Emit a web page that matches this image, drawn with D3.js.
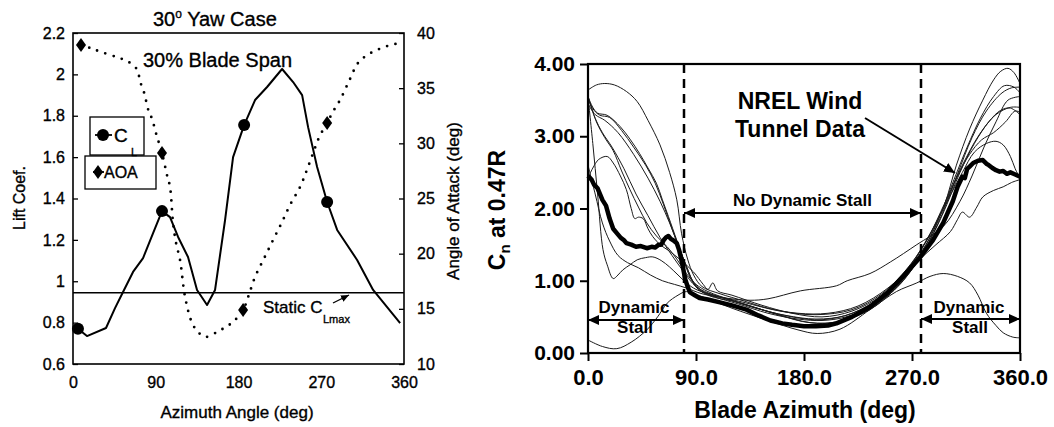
<!DOCTYPE html>
<html>
<head>
<meta charset="utf-8">
<script src="https://cdn.jsdelivr.net/npm/d3@7"></script>
<style>
body { margin: 0; background: #fff; }
svg { display: block; }
text { font-family: "Liberation Sans", Arial, Helvetica, sans-serif; fill: #000; }
.scan text, text.scan { stroke: #000; stroke-width: 0.35; }
</style>
</head>
<body>
<svg id="chart" width="1054" height="427"></svg>
<script>
// ---- left panel: 30 deg yaw, 30% span ----
const azTicksL = [0, 90, 180, 270, 360]
const liftTicks = [0.6, 0.8, 1, 1.2, 1.4, 1.6, 1.8, 2, 2.2]
const aoaTicks = [10, 15, 20, 25, 30, 35, 40]
// [azimuth deg, lift coef]
const liftCoef = [
  [5.4, 0.77], [15.2, 0.735], [35.9, 0.774], [45.7, 0.87], [55.5, 0.958], [65.3, 1.045],
  [76.2, 1.112], [87.1, 1.233], [96.8, 1.339], [105.5, 1.31], [114.3, 1.214], [125.1, 1.117],
  [134.9, 0.958], [145.8, 0.885], [154.5, 0.958], [165.4, 1.296], [174.1, 1.6], [186.1, 1.755],
  [198, 1.876], [211.1, 1.939], [227.4, 2.026], [239.4, 1.963], [249.2, 1.9], [255.7, 1.745],
  [265.5, 1.552], [276.4, 1.383], [287.3, 1.248], [309, 1.103], [326.4, 0.958], [355.8, 0.798]
]
// [azimuth deg, angle of attack deg]
const aoa = [
  [8.7, 38.92], [18.5, 38.65], [30, 38.3], [48, 37.8], [60, 37.4], [69.6, 36.7], [73, 35.6],
  [77.3, 34.6], [82, 33.0], [86, 32.2], [91, 30.7], [96.8, 29.13], [102, 27.2], [105.5, 26.05],
  [108.8, 22.8], [112, 21], [116.4, 19.43], [121.9, 16.07], [129.5, 13.72], [136, 12.9],
  [143.6, 12.45], [156.7, 12.9], [165, 13.3], [174.1, 13.81], [185, 14.9], [191, 16.2],
  [198, 17.89], [208, 19.6], [217.6, 21.24], [227, 22.8], [236.1, 24.42], [247, 26.05],
  [254, 27.5], [261.2, 29.13], [268, 30.6], [276.4, 31.85], [283, 32.9], [290.5, 33.93],
  [300, 35.6], [310.1, 37.29], [320, 38.0], [330.8, 38.47], [343, 38.85], [355.8, 39.1]
]
const liftMarkers = [[5.4, 0.77], [96.8, 1.339], [186.1, 1.755], [276.4, 1.383]]
const aoaMarkers = [[8.7, 38.92], [96.8, 29.13], [185, 14.9], [276.4, 31.85]]
const staticClMax = 0.945

// ---- right panel: Cn at 0.47R ----
const azTicksR = [0, 90, 180, 270, 360]
const cnTicks = [0, 1, 2, 3, 4]
const stallBounds = [80, 277.5]
const nrelData = [
  [0, 2.45], [3, 2.4], [5, 2.33], [8, 2.28], [12, 2.12], [15, 2.04], [18, 1.86], [21, 1.72],
  [24, 1.66], [27, 1.6], [30, 1.56], [32, 1.52], [36, 1.5], [40, 1.47], [44, 1.48], [49, 1.45],
  [53, 1.47], [56, 1.46], [59, 1.5], [61, 1.5], [63, 1.56], [65, 1.6], [67, 1.62], [69, 1.58],
  [71, 1.56], [74, 1.52], [76, 1.42], [77, 1.35], [79, 1.2], [81, 1.02], [83, 0.92], [85, 0.84],
  [89, 0.8], [93, 0.76], [100, 0.74], [110, 0.7], [120, 0.66], [132, 0.6], [142, 0.52],
  [152, 0.45], [162, 0.41], [170, 0.39], [180, 0.37], [190, 0.37], [200, 0.38], [207, 0.41],
  [220, 0.5], [235, 0.64], [250, 0.84], [262, 1.05], [277, 1.33], [287, 1.55], [296, 1.8],
  [304, 2.1], [308, 2.3], [312, 2.44], [314, 2.42], [316, 2.55], [318, 2.58], [321, 2.63],
  [325, 2.66], [329, 2.67], [332, 2.62], [334, 2.6], [337, 2.56], [340, 2.53], [343, 2.51],
  [346, 2.52], [349, 2.48], [352, 2.5], [356, 2.47], [360, 2.44]
]
const run1 = [[0,3.64],[7,3.71],[14,3.73],[22,3.71],[32,3.62],[41,3.48],[50,3.22],[60,2.88],[68,2.5],[74,2.12],[78,1.65],[83,1.3],[88,1.08],[95,0.92],[110,0.82],[130,0.72],[150,0.62],[175,0.55],[200,0.55],[225,0.65],[250,0.9],[270,1.22],[285,1.6],[297,2.05],[307,2.6],[318,3.1],[329,3.5],[338,3.78],[344,3.9],[350,3.94],[355,3.88],[360,3.73]]
const run2 = [[0,3.55],[4,3.4],[8,3.32],[16,3.29],[27,3.13],[35,2.96],[43,2.76],[50,2.56],[57,2.35],[62,2.12],[67,1.89],[74,1.56],[79,1.33],[85,1.05],[92,0.88],[105,0.78],[125,0.68],[150,0.55],[175,0.47],[195,0.45],[215,0.5],[240,0.68],[260,0.95],[280,1.42],[295,1.92],[308,2.48],[320,2.98],[332,3.35],[345,3.6],[353,3.67],[360,3.68]]
const run3 = [[0,3.52],[5,3.36],[10,3.29],[18,3.26],[28,3.08],[38,2.85],[48,2.6],[56,2.35],[63,2.05],[70,1.72],[76,1.45],[82,1.2],[88,0.98],[97,0.84],[115,0.75],[140,0.62],[165,0.52],[190,0.47],[215,0.52],[240,0.72],[262,1.05],[282,1.55],[298,2.1],[312,2.6],[326,3.02],[340,3.3],[352,3.4],[360,3.4]]
const run4 = [[0,3.55],[4,2.9],[8,2.2],[12.5,1.43],[16,1.22],[21,1.03],[25,1.08],[29,1.15],[35,1.22],[41,1.29],[48,1.32],[54,1.33],[61,1.28],[68,1.19],[75,1.08],[82,0.97],[90,0.88],[105,0.8],[130,0.7],[160,0.58],[190,0.53],[220,0.6],[245,0.82],[265,1.15],[282,1.55],[296,2.0],[308,2.45],[318,2.75],[328,2.95],[338,3.05],[348,3.2],[356,3.35],[360,3.33]]
const run5 = [[0,2.42],[4,2.56],[9,2.68],[16,2.72],[21,2.63],[27,2.45],[32,2.26],[36,2.0],[39,1.86],[42,1.88],[46,1.86],[50,1.72],[54,1.61],[60,1.5],[67,1.42],[77,1.29],[88,1.12],[96,0.95],[100,0.88],[104,0.97],[108,0.86],[120,0.8],[145,0.66],[170,0.55],[195,0.5],[220,0.58],[245,0.8],[268,1.2],[285,1.65],[300,2.12],[312,2.5],[322,2.78],[332,2.9],[340,2.93],[346,2.88],[352,2.72],[356,2.55],[360,2.42]]
const run6 = [[0,3.55],[7,3.2],[14,2.98],[21,2.8],[28,2.52],[35,2.26],[42,2.02],[49,1.8],[57,1.62],[66,1.47],[74,1.3],[82,1.1],[90,0.95],[100,0.85],[120,0.73],[145,0.6],[170,0.5],[195,0.46],[220,0.55],[245,0.78],[265,1.1],[280,1.35],[290,1.5],[302,1.68],[308,1.85],[312,1.95],[318,1.88],[324,2.02],[329,2.16],[338,2.25],[346,2.3],[353,2.36],[360,2.4]]
const run7 = [[0,2.6],[6,2.2],[12,1.8],[18,1.55],[25,1.35],[33,1.25],[42,1.18],[52,1.08],[62,1.0],[72,0.95],[82,0.9],[95,0.82],[115,0.76],[135,0.73],[150,0.75],[177,0.86],[207,0.93],[216,1.0],[235,1.1],[252,1.26],[274,1.5],[296,1.75],[310,2.1],[320,2.45],[330,2.85],[340,3.2],[350,3.5],[360,3.55]]
const run8 = [[0,0.18],[12,0.09],[24,0.06],[36,0.15],[49,0.32],[58,0.5],[66,0.69],[75,0.8],[82,0.85],[95,0.78],[120,0.62],[150,0.45],[175,0.32],[191,0.27],[210,0.33],[235,0.6],[257,0.85],[274,0.97],[285,1.06],[296,1.1],[308,1.06],[318,0.97],[325,0.8],[332,0.55],[340,0.38],[346,0.28],[354,0.22],[360,0.21]]
const run9 = [[0,3.45],[6,3.3],[14,3.22],[25,3.05],[38,2.75],[50,2.42],[60,2.1],[68,1.8],[75,1.5],[82,1.2],[90,0.92],[100,0.8],[125,0.7],[155,0.55],[185,0.42],[205,0.42],[230,0.56],[255,0.88],[275,1.3],[292,1.85],[305,2.4],[316,2.85],[327,3.25],[338,3.55],[347,3.7],[355,3.68],[360,3.6]]
const run10 = [[0,3.55],[6,3.25],[12,3.05],[20,2.85],[30,2.55],[40,2.2],[50,1.9],[60,1.6],[70,1.35],[80,1.12],[90,0.92],[105,0.8],[130,0.68],[160,0.52],[185,0.42],[210,0.44],[235,0.6],[258,0.92],[278,1.35],[295,1.9],[310,2.5],[322,2.9],[334,3.2],[344,3.36],[352,3.39],[360,3.3]]
const modelRuns = [run1, run2, run3, run4, run5, run6, run7, run8, run9, run10]

const svg = d3.select('#chart')
const defs = svg.append('defs')
function arrowHead(id, len, half) {
  defs.append('marker')
    .attr('id', id)
    .attr('markerUnits', 'userSpaceOnUse')
    .attr('viewBox', `0 ${-half} ${len} ${half * 2}`)
    .attr('refX', len).attr('refY', 0)
    .attr('markerWidth', len).attr('markerHeight', half * 2)
    .attr('orient', 'auto-start-reverse')
    .append('path')
    .attr('d', `M0,${-half}L${len},0L0,${half}Z`)
    .attr('fill', '#000')
}
arrowHead('headBig', 11, 5)
arrowHead('headSmall', 8, 3.5)

// ================= left chart =================
const L = { left: 73, right: 404, top: 33, bottom: 364 }
const xL = d3.scaleLinear().domain([0, 360]).range([L.left, L.right])
const yL = d3.scaleLinear().domain([0.6, 2.2]).range([L.bottom, L.top])
const y2L = d3.scaleLinear().domain([10, 40]).range([L.bottom, L.top])
const left = svg.append('g').attr('class', 'scan')

function styleAxis(g, size, weight) {
  g.select('.domain').remove()
  g.selectAll('line').attr('stroke', '#000').attr('stroke-width', 1.3)
  g.selectAll('text').attr('font-size', size).attr('font-weight', weight)
    .attr('font-family', '"Liberation Sans", Arial, sans-serif')
}

left.append('g')
  .attr('transform', `translate(${L.left},0)`)
  .call(d3.axisLeft(yL).tickValues(liftTicks).tickSize(-5).tickPadding(8).tickFormat(d3.format('~g')))
  .call(g => styleAxis(g, 16, 'normal'))
left.append('g')
  .attr('transform', `translate(${L.right},0)`)
  .call(d3.axisRight(y2L).tickValues(aoaTicks).tickSize(-5).tickPadding(13))
  .call(g => styleAxis(g, 16, 'normal'))
left.append('g')
  .attr('transform', `translate(0,${L.bottom})`)
  .call(d3.axisBottom(xL).tickValues(azTicksL).tickSize(0).tickPadding(13))
  .call(g => styleAxis(g, 16, 'normal'))

left.append('rect')
  .attr('x', L.left).attr('y', L.top)
  .attr('width', L.right - L.left).attr('height', L.bottom - L.top)
  .attr('fill', 'none').attr('stroke', '#000').attr('stroke-width', 1.6)

// static CLmax line
left.append('line')
  .attr('x1', L.left).attr('x2', L.right)
  .attr('y1', yL(staticClMax)).attr('y2', yL(staticClMax))
  .attr('stroke', '#000').attr('stroke-width', 1.5)

// AOA dotted
left.append('path')
  .attr('d', d3.line().x(d => xL(d[0])).y(d => y2L(d[1])).curve(d3.curveCatmullRom)(aoa))
  .attr('fill', 'none').attr('stroke', '#000').attr('stroke-width', 2.8)
  .attr('stroke-linecap', 'round').attr('stroke-dasharray', '0,8.6')

// lift coefficient
left.append('path')
  .attr('d', d3.line().x(d => xL(d[0])).y(d => yL(d[1]))(liftCoef))
  .attr('fill', 'none').attr('stroke', '#000').attr('stroke-width', 2)
  .attr('stroke-linejoin', 'round')

const diamond = 'M0,-7L5,0L0,7L-5,0Z'
left.selectAll('circle.cl').data(liftMarkers).join('circle')
  .attr('class', 'cl')
  .attr('cx', d => xL(d[0])).attr('cy', d => yL(d[1])).attr('r', 6)
  .attr('fill', '#000')
left.selectAll('path.aoa').data(aoaMarkers).join('path')
  .attr('class', 'aoa')
  .attr('d', diamond)
  .attr('transform', d => `translate(${xL(d[0])},${y2L(d[1])})`)
  .attr('fill', '#000')

// titles
const t1 = left.append('text').attr('x', 153).attr('y', 26).attr('font-size', 20)
t1.append('tspan').text('30')
t1.append('tspan').attr('font-size', 12).attr('dy', -8).text('o')
t1.append('tspan').attr('dy', 8).text(' Yaw Case')
left.append('text').attr('x', 143).attr('y', 67).attr('font-size', 20).text('30% Blade Span')

left.append('text')
  .attr('transform', 'translate(25,198) rotate(-90)')
  .attr('text-anchor', 'middle').attr('font-size', 16).text('Lift Coef.')
left.append('text')
  .attr('transform', 'translate(459,201) rotate(-90)')
  .attr('text-anchor', 'middle').attr('font-size', 17).text('Angle of Attack (deg)')
left.append('text')
  .attr('x', 237).attr('y', 418)
  .attr('text-anchor', 'middle').attr('font-size', 17).text('Azimuth Angle (deg)')

// static CLmax annotation
left.append('text').attr('x', 263).attr('y', 313).attr('font-size', 17).text('Static C')
left.append('text').attr('x', 323).attr('y', 323).attr('font-size', 11).text('Lmax')
left.append('line')
  .attr('x1', 333).attr('y1', 303).attr('x2', 349).attr('y2', 295)
  .attr('stroke', '#000').attr('stroke-width', 1.3)
  .attr('marker-end', 'url(#headSmall)')

// legend boxes
left.append('rect').attr('x', 90).attr('y', 117).attr('width', 54).attr('height', 38)
  .attr('fill', '#fff').attr('stroke', '#000').attr('stroke-width', 1.3)
left.append('line').attr('x1', 95).attr('x2', 112).attr('y1', 135).attr('y2', 135)
  .attr('stroke', '#000').attr('stroke-width', 1.8)
left.append('circle').attr('cx', 103).attr('cy', 135).attr('r', 6).attr('fill', '#000')
left.append('text').attr('x', 114).attr('y', 142).attr('font-size', 19).text('C')
left.append('rect').attr('x', 85).attr('y', 156).attr('width', 71).attr('height', 33)
  .attr('fill', '#fff').attr('stroke', '#000').attr('stroke-width', 1.3)
left.append('text').attr('x', 131).attr('y', 156).attr('font-size', 11).text('L')
left.append('line').attr('x1', 93).attr('x2', 104).attr('y1', 172).attr('y2', 172)
  .attr('stroke', '#000').attr('stroke-width', 1.8)
left.append('path').attr('d', diamond).attr('transform', 'translate(98,172)').attr('fill', '#000')
left.append('text').attr('x', 104).attr('y', 178).attr('font-size', 16).text('AOA')

// ================= right chart =================
const R = { left: 588, right: 1020, top: 64, bottom: 353 }
const xR = d3.scaleLinear().domain([0, 360]).range([R.left, R.right])
const yR = d3.scaleLinear().domain([0, 4]).range([R.bottom, R.top])
const right = svg.append('g')

right.append('g')
  .attr('transform', `translate(${R.left},0)`)
  .call(d3.axisLeft(yR).tickValues(cnTicks).tickSize(8).tickPadding(5).tickFormat(d3.format('.2f')))
  .call(g => styleAxis(g, 21, 'bold'))
  .call(g => g.selectAll('line').attr('stroke-width', 2))
right.append('g')
  .attr('transform', `translate(0,${R.bottom})`)
  .call(d3.axisBottom(xR).tickValues(azTicksR).tickSize(8).tickPadding(8).tickFormat(d3.format('.1f')))
  .call(g => styleAxis(g, 22, 'bold'))
  .call(g => g.selectAll('line').attr('stroke-width', 2))

const cnLine = d3.line().x(d => xR(d[0])).y(d => yR(d[1]))
right.append('g').selectAll('path').data(modelRuns).join('path')
  .attr('d', d => cnLine.curve(d3.curveCatmullRom)(d))
  .attr('fill', 'none').attr('stroke', '#1a1a1a').attr('stroke-width', 1)
right.append('path')
  .attr('d', cnLine.curve(d3.curveLinear)(nrelData))
  .attr('fill', 'none').attr('stroke', '#000').attr('stroke-width', 4.5)
  .attr('stroke-linejoin', 'round')

right.append('rect')
  .attr('x', R.left).attr('y', R.top)
  .attr('width', R.right - R.left).attr('height', R.bottom - R.top)
  .attr('fill', 'none').attr('stroke', '#000').attr('stroke-width', 2.2)

right.selectAll('line.bound').data(stallBounds).join('line')
  .attr('class', 'bound')
  .attr('x1', d => xR(d)).attr('x2', d => xR(d))
  .attr('y1', R.top).attr('y2', R.bottom)
  .attr('stroke', '#000').attr('stroke-width', 2.5).attr('stroke-dasharray', '9,6')

function dblArrow(x1, x2, y) {
  right.append('line')
    .attr('x1', x1).attr('x2', x2).attr('y1', y).attr('y2', y)
    .attr('stroke', '#000').attr('stroke-width', 2)
    .attr('marker-start', 'url(#headBig)').attr('marker-end', 'url(#headBig)')
}
dblArrow(xR(stallBounds[0]), xR(stallBounds[1]), 213)
dblArrow(xR(0), xR(stallBounds[0]), 320)
dblArrow(xR(stallBounds[1]), xR(360), 319)

function boldText(x, y, size, str) {
  right.append('text').attr('x', x).attr('y', y)
    .attr('text-anchor', 'middle').attr('font-size', size).attr('font-weight', 'bold')
    .text(str)
}
boldText((xR(stallBounds[0]) + xR(stallBounds[1])) / 2, 206, 17, 'No Dynamic Stall')
boldText(634, 313, 17, 'Dynamic')
boldText(635, 333, 17, 'Stall')
boldText(969, 313, 17, 'Dynamic')
boldText(970, 333, 17, 'Stall')
boldText(800, 109, 23, 'NREL Wind')
boldText(800, 137, 23, 'Tunnel Data')
right.append('line')
  .attr('x1', 865).attr('y1', 118).attr('x2', 955).attr('y2', 173)
  .attr('stroke', '#000').attr('stroke-width', 2)
  .attr('marker-end', 'url(#headBig)')

const yt = right.append('text')
  .attr('transform', 'translate(505,210) rotate(-90)')
  .attr('text-anchor', 'middle').attr('font-size', 23).attr('font-weight', 'bold')
yt.append('tspan').text('C')
yt.append('tspan').attr('font-size', 15).attr('dy', 5).text('n')
yt.append('tspan').attr('dy', -5).text(' at 0.47R')
boldText(805, 418, 23, 'Blade Azimuth (deg)')
</script>
</body>
</html>
